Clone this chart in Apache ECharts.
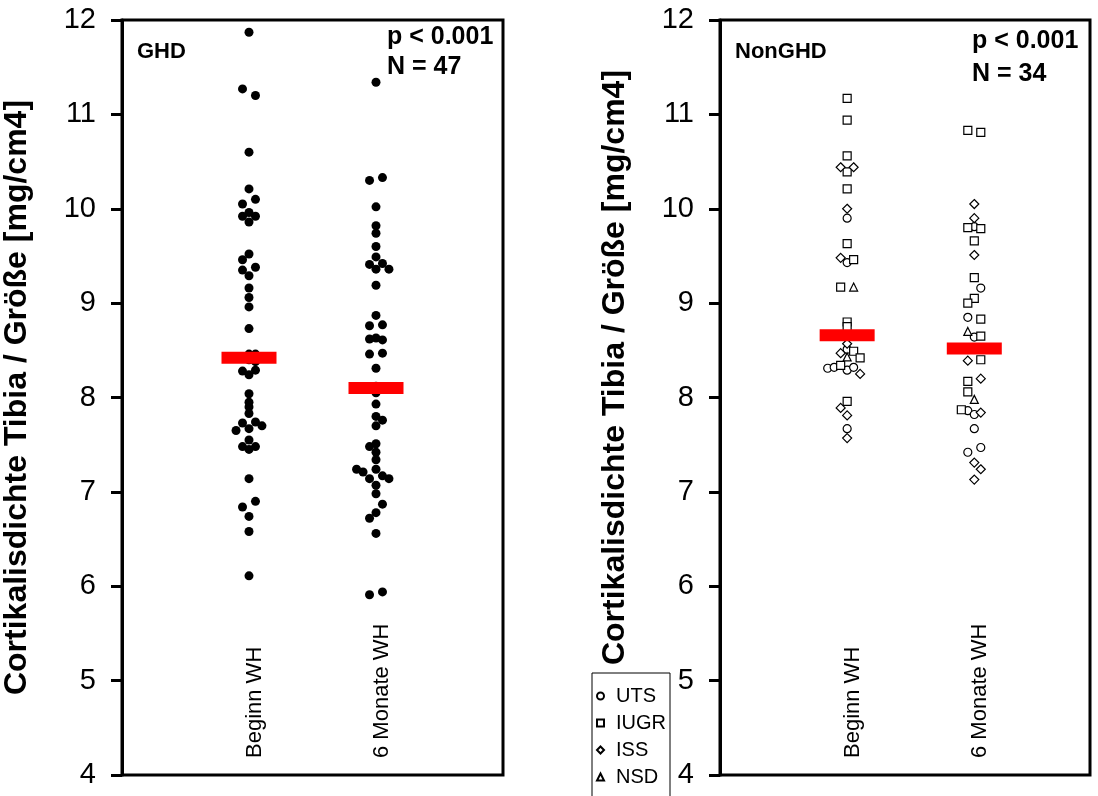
<!DOCTYPE html>
<html>
<head>
<meta charset="utf-8">
<script src="https://cdn.jsdelivr.net/npm/echarts@6/dist/echarts.min.js"></script>
<style>
html, body { margin: 0; padding: 0; background: #fff; }
#main { width: 1098px; height: 796px; }
</style>
</head>
<body>
<div id="main"></div>
<script>
// Kategorien und Gruppen
var categories = ['Beginn WH', '6 Monate WH'];
var groups = ['UTS', 'IUGR', 'ISS', 'NSD'];
var groupSymbols = ['circle', 'rect', 'diamond', 'triangle'];
var yMin = 4, yMax = 12, yStep = 1;
var yName = 'Cortikalisdichte Tibia / Größe [mg/cm4]';

// GHD (N = 47), Werte + Spalte im Schwarm (-1 links, +1 rechts)
var ghdBeginn = [11.87, 11.27, 11.20, 10.60, 10.21, 10.10, 10.05, 9.96, 9.92, 9.92,
  9.86, 9.52, 9.46, 9.38, 9.35, 9.29, 9.16, 9.06, 8.96, 8.73,
  8.46, 8.46, 8.43, 8.40, 8.38, 8.28, 8.29, 8.24, 8.04, 7.95,
  7.90, 7.83, 7.73, 7.74, 7.70, 7.65, 7.67, 7.55, 7.48, 7.48,
  7.45, 7.14, 6.90, 6.84, 6.74, 6.58, 6.11];
var ghdBeginnSlot = [0, -1, 1, 0, 0, 1, -1, 0, -1, 1,
  0, 0, -1, 1, -1, 0, 0, 0, 0, 0,
  0, 1, -1, 0, 1, -1, 1, 0, 0, 0,
  0, 0, -1, 1, 2, -2, 0, 0, -1, 1,
  0, 0, 1, -1, 0, 0, 0];
var ghdMonate = [11.34, 10.30, 10.33, 10.02, 9.82, 9.74, 9.60, 9.49, 9.41, 9.42,
  9.36, 9.36, 9.19, 8.87, 8.76, 8.77, 8.62, 8.63, 8.61, 8.46,
  8.47, 8.31, 8.12, 8.10, 8.05, 7.93, 7.80, 7.76, 7.70, 7.48,
  7.51, 7.42, 7.34, 7.24, 7.21, 7.24, 7.14, 7.17, 7.14, 7.07,
  6.98, 6.87, 6.78, 6.72, 6.56, 5.91, 5.94];
var ghdMonateSlot = [0, -1, 1, 0, 0, 0, 0, 0, -1, 1,
  0, 2, 0, 0, -1, 1, -1, 0, 1, -1,
  1, 0, 0, 1, 0, 0, 0, 1, 0, -1,
  0, 0, 0, -3, -2, 0, -1, 1, 2, 0,
  0, 1, 0, -1, 0, -1, 1];
var ghdMedian = [8.42, 8.10];

// NonGHD (N = 34), je Gruppe
var uts = {
  beginn: [9.90, 9.43, 8.51, 8.31, 8.32, 8.29, 8.32, 7.67],
  beginnSlot: [0, 0, 0, -3, -2, 0, 1, 0],
  monate: [9.81, 9.16, 8.85, 8.64, 7.86, 7.82, 7.67, 7.47, 7.42],
  monateSlot: [0, 1, -1, 0, -1, 0, 0, 1, -1]
};
var iugr = {
  beginn: [11.17, 10.94, 10.56, 10.39, 10.21, 9.63, 9.46, 9.17, 8.80, 8.75, 8.49, 8.42, 8.34, 7.96],
  beginnSlot: [0, 0, 0, 0, 0, 0, 1, -1, 0, 0, 1, 2, -1, 0],
  monate: [10.83, 10.81, 9.80, 9.79, 9.66, 9.27, 9.05, 9.00, 8.83, 8.65, 8.40, 8.17, 8.06, 7.87],
  monateSlot: [-1, 1, -1, 1, 0, 0, 0, -1, 1, 1, 1, -1, -1, -2]
};
var iss = {
  beginn: [10.44, 10.44, 10.00, 9.48, 8.57, 8.47, 8.25, 7.89, 7.81, 7.57],
  beginnSlot: [-1, 1, 0, -1, 0, -1, 2, -1, 0, 0],
  monate: [10.05, 9.90, 9.51, 8.39, 8.20, 7.84, 7.31, 7.24, 7.13],
  monateSlot: [0, 0, 0, -1, 1, 1, 0, 1, 0]
};
var nsd = {
  beginn: [9.17, 8.43],
  beginnSlot: [1, 0],
  monate: [8.70, 7.98],
  monateSlot: [-1, 0]
};
var nonGhdGroups = [uts, iugr, iss, nsd];
var nonGhdMedian = [8.66, 8.52];

var SLOT = 0.051;
var FONT = 'Liberation Sans, Arial, sans-serif';

function swarm(cat, vals, slots) {
  return vals.map(function (v, i) { return [cat + 1 + slots[i] * SLOT, v]; });
}

var myChart = echarts.init(document.getElementById('main'));

function yAxisOpt(idx, pad) {
  return {
    type: 'value', gridIndex: idx, min: yMin, max: yMax, interval: yStep,
    axisLine: { show: true, lineStyle: { color: '#000', width: 3 } },
    axisTick: { show: true, length: 11, lineStyle: { color: '#000', width: 3 } },
    axisLabel: { fontSize: 29, color: '#000', margin: 26, fontFamily: FONT },
    splitLine: { show: false },
    name: yName, nameLocation: 'middle', nameRotate: 90, nameGap: 89,
    nameTextStyle: { fontSize: 32, fontWeight: 'bold', color: '#000', fontFamily: FONT, padding: pad }
  };
}
function xAxisOpt(idx, max) {
  return {
    type: 'value', gridIndex: idx, min: 0, max: max, interval: 1,
    axisLine: { show: false }, axisTick: { show: false }, splitLine: { show: false },
    axisLabel: {
      inside: true, rotate: 90, fontSize: 22, margin: 17, color: '#000', fontFamily: FONT,
      verticalAlign: 'top', lineHeight: 12,
      formatter: function (v) { return v === 1 ? categories[0] : (v === 2 ? categories[1] : ''); }
    }
  };
}

var series = [
  {
    type: 'scatter', name: 'GHD', xAxisIndex: 0, yAxisIndex: 0,
    symbol: 'circle', symbolSize: 9, itemStyle: { color: '#000', opacity: 1 },
    data: swarm(0, ghdBeginn, ghdBeginnSlot).concat(swarm(1, ghdMonate, ghdMonateSlot))
  },
  {
    type: 'scatter', name: 'Median GHD', xAxisIndex: 0, yAxisIndex: 0, z: 5,
    symbol: 'rect', symbolSize: [55, 12], itemStyle: { color: '#ff0000', opacity: 1 },
    data: ghdMedian.map(function (v, i) { return [i + 1, v]; })
  }
];
groups.forEach(function (g, k) {
  var d = nonGhdGroups[k];
  series.push({
    type: 'scatter', name: g, xAxisIndex: 1, yAxisIndex: 1,
    symbol: groupSymbols[k], symbolSize: k === 2 ? 9 : 8,
    itemStyle: { color: '#fff', borderColor: '#000', borderWidth: 1.2, opacity: 1 },
    data: swarm(0, d.beginn, d.beginnSlot).concat(swarm(1, d.monate, d.monateSlot))
  });
});
series.push({
  type: 'scatter', name: 'Median NonGHD', xAxisIndex: 1, yAxisIndex: 1, z: 5,
  symbol: 'rect', symbolSize: [55, 12], itemStyle: { color: '#ff0000', opacity: 1 },
  data: nonGhdMedian.map(function (v, i) { return [i + 1, v]; })
});

option = {
  backgroundColor: '#fff',
  animation: false,
  title: [
    { text: 'GHD', left: 137, top: 41, padding: 0,
      textStyle: { fontSize: 22, fontWeight: 'bold', color: '#000', fontFamily: FONT, lineHeight: 22 } },
    { text: 'p < 0.001\nN = 47', left: 387, top: 22, padding: 0,
      textStyle: { fontSize: 25, fontWeight: 'bold', color: '#000', fontFamily: FONT, lineHeight: 30 } },
    { text: 'NonGHD', left: 735, top: 41, padding: 0,
      textStyle: { fontSize: 22, fontWeight: 'bold', color: '#000', fontFamily: FONT, lineHeight: 22 } },
    { text: 'p < 0.001\nN = 34', left: 972, top: 25, padding: 0,
      textStyle: { fontSize: 25, fontWeight: 'bold', color: '#000', fontFamily: FONT, lineHeight: 33 } }
  ],
  legend: {
    data: groups, orient: 'vertical', left: 592, top: 673, height: 140,
    itemWidth: 7, itemHeight: 7, itemGap: 7, padding: [13, 4, 14, 4],
    borderColor: '#000', borderWidth: 1, selectedMode: false,
    textStyle: { fontSize: 20, color: '#000', fontFamily: FONT, lineHeight: 20, padding: [0, 0, 0, 7] }
  },
  grid: [
    { left: 117, top: 20, width: 386, height: 755, show: true, borderColor: '#000', borderWidth: 3 },
    { left: 720, top: 20, width: 370, height: 755, show: true, borderColor: '#000', borderWidth: 3 }
  ],
  xAxis: [xAxisOpt(0, 3), xAxisOpt(1, 2.91)],
  yAxis: [yAxisOpt(0, 0), yAxisOpt(1, [0, 0, 0, 60])],
  series: series
};

myChart.setOption(option);
</script>
</body>
</html>
